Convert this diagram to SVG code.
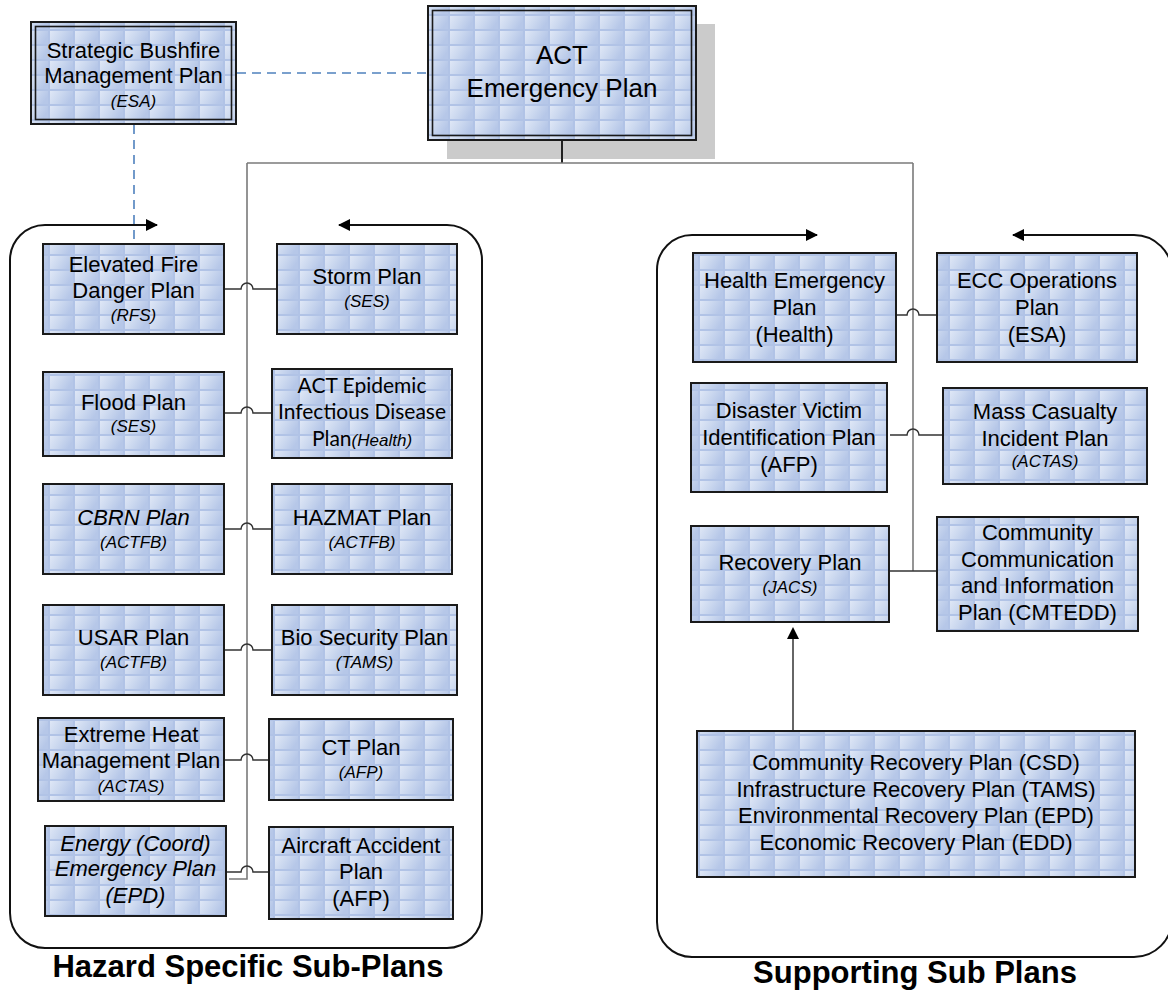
<svg xmlns="http://www.w3.org/2000/svg" width="1168" height="993" viewBox="0 0 1168 993">
<defs>
<linearGradient id="tg" x1="0" y1="0" x2="1" y2="0.35">
<stop offset="0" stop-color="#dfe7f6"/>
<stop offset="0.5" stop-color="#cbd8ef"/>
<stop offset="1" stop-color="#b6c7e8"/>
</linearGradient>
<pattern id="tile" width="25" height="15" patternUnits="userSpaceOnUse">
<rect width="25" height="15" fill="#b1c3e6"/>
<rect x="0" y="1" width="23" height="13" fill="url(#tg)"/>
</pattern>
<marker id="ah" viewBox="0 0 12 12" refX="11" refY="6" markerWidth="12" markerHeight="12" markerUnits="userSpaceOnUse" orient="auto">
<path d="M0,0 L12,6 L0,12 Z" fill="#000"/>
</marker>
<style>
.n{fill:url(#tile);stroke:#1a1a1a;stroke-width:2}
.in{fill:none;stroke:#1a1a1a;stroke-width:1.6}
.t{font-family:"Liberation Sans",Arial,sans-serif;font-size:22px;text-anchor:middle;fill:#000}
.s{font-style:italic;font-size:17px}
.it{font-style:italic}
.cal{font-family:Lato,"Liberation Sans",sans-serif;font-size:21px}
.big{font-size:26px}
.lbl{font-family:"Liberation Sans",Arial,sans-serif;font-weight:bold;font-size:31px;text-anchor:middle;fill:#000}
.c{fill:none;stroke:#333;stroke-width:1.5}
.tr{fill:none;stroke:#7a7a7a;stroke-width:1.6}
.d{fill:none;stroke:#4f81bd;stroke-width:1.6;stroke-dasharray:9 6}
.box{fill:none;stroke:#111;stroke-width:2}
</style>
</defs>
<rect width="1168" height="993" fill="#fff"/>

<g id="containers">
<path class="box" d="M247,948 H45 A35,35 0 0 1 10,913 V260 A35,35 0 0 1 45,225 H157" marker-end="url(#ah)"/>
<path class="box" d="M247,948 H447 A35,35 0 0 0 482,913 V260 A35,35 0 0 0 447,225 H339" marker-end="url(#ah)"/>
<path class="box" d="M913,957 H692 A35,35 0 0 1 657,922 V270 A35,35 0 0 1 692,235 H817" marker-end="url(#ah)"/>
<path class="box" d="M913,957 H1134 A38,38 0 0 0 1172,919 V273 A38,38 0 0 0 1134,235 H1013" marker-end="url(#ah)"/>
</g>

<g id="act">
<rect x="447" y="24" width="268" height="135" fill="#cbcbcb"/>
<rect class="n" x="428" y="6" width="268" height="134"/>
<rect class="in" x="432.5" y="10.5" width="259" height="125"/>
<text class="t big"><tspan x="562" y="64">ACT</tspan><tspan x="562" y="97">Emergency Plan</tspan></text>
</g>

<g id="strategic">
<rect class="n" x="31" y="22" width="205" height="102"/>
<rect class="in" x="35.5" y="26.5" width="196" height="93"/>
<text class="t"><tspan x="133.5" y="58">Strategic Bushfire</tspan><tspan x="133.5" y="83">Management Plan</tspan><tspan class="s" x="133.5" y="107">(ESA)</tspan></text>
</g>

<g id="elevated">
<rect class="n" x="43" y="244" width="181" height="90"/>
<text class="t"><tspan x="133.5" y="272">Elevated Fire</tspan><tspan x="133.5" y="298">Danger Plan</tspan><tspan class="s" x="133.5" y="321">(RFS)</tspan></text>
</g>
<g id="storm">
<rect class="n" x="277" y="244" width="180" height="90"/>
<text class="t"><tspan x="367" y="284">Storm Plan</tspan><tspan class="s" x="367" y="307">(SES)</tspan></text>
</g>
<g id="flood">
<rect class="n" x="43" y="372" width="181" height="84"/>
<text class="t"><tspan x="133.5" y="410">Flood Plan</tspan><tspan class="s" x="133.5" y="432">(SES)</tspan></text>
</g>
<g id="epidemic">
<rect class="n" x="272" y="369" width="180" height="89"/>
<text class="t cal"><tspan x="362" y="393">ACT Epidemic</tspan><tspan x="362" y="419">Infectious Disease</tspan><tspan x="362" y="446">Plan<tspan style="font-family:'Liberation Sans',Arial,sans-serif;font-style:italic;font-size:17px">(Health)</tspan></tspan></text>
</g>
<g id="cbrn">
<rect class="n" x="43" y="484" width="181" height="90"/>
<text class="t"><tspan class="it" x="133.5" y="525">CBRN Plan</tspan><tspan class="s" x="133.5" y="548">(ACTFB)</tspan></text>
</g>
<g id="hazmat">
<rect class="n" x="272" y="484" width="180" height="90"/>
<text class="t"><tspan x="362" y="525">HAZMAT Plan</tspan><tspan class="s" x="362" y="548">(ACTFB)</tspan></text>
</g>
<g id="usar">
<rect class="n" x="43" y="605" width="181" height="90"/>
<text class="t"><tspan x="133.5" y="645">USAR Plan</tspan><tspan class="s" x="133.5" y="668">(ACTFB)</tspan></text>
</g>
<g id="biosecurity">
<rect class="n" x="272" y="605" width="185" height="90"/>
<text class="t"><tspan x="364.5" y="645">Bio Security Plan</tspan><tspan class="s" x="364.5" y="668">(TAMS)</tspan></text>
</g>
<g id="extremeheat">
<rect class="n" x="38" y="718" width="186" height="83"/>
<text class="t"><tspan x="131" y="742">Extreme Heat</tspan><tspan x="131" y="768">Management Plan</tspan><tspan class="s" x="131" y="792">(ACTAS)</tspan></text>
</g>
<g id="ct">
<rect class="n" x="269" y="719" width="184" height="81"/>
<text class="t"><tspan x="361" y="755">CT Plan</tspan><tspan class="s" x="361" y="778">(AFP)</tspan></text>
</g>
<g id="energy">
<rect class="n" x="45" y="826" width="181" height="90"/>
<text class="t it"><tspan x="135.5" y="851">Energy (Coord)</tspan><tspan x="135.5" y="876">Emergency Plan</tspan><tspan x="135.5" y="903">(EPD)</tspan></text>
</g>
<g id="aircraft">
<rect class="n" x="269" y="827" width="184" height="92"/>
<text class="t"><tspan x="361" y="853">Aircraft Accident</tspan><tspan x="361" y="879">Plan</tspan><tspan x="361" y="906">(AFP)</tspan></text>
</g>

<g id="health">
<rect class="n" x="693" y="253" width="203" height="109"/>
<text class="t"><tspan x="794.5" y="288">Health Emergency</tspan><tspan x="794.5" y="315">Plan</tspan><tspan x="794.5" y="342">(Health)</tspan></text>
</g>
<g id="ecc">
<rect class="n" x="937" y="253" width="200" height="109"/>
<text class="t"><tspan x="1037" y="288">ECC Operations</tspan><tspan x="1037" y="315">Plan</tspan><tspan x="1037" y="342">(ESA)</tspan></text>
</g>
<g id="dvi">
<rect class="n" x="691" y="383" width="196" height="109"/>
<text class="t"><tspan x="789" y="418">Disaster Victim</tspan><tspan x="789" y="445">Identification Plan</tspan><tspan x="789" y="472">(AFP)</tspan></text>
</g>
<g id="masscasualty">
<rect class="n" x="943" y="388" width="204" height="96"/>
<text class="t"><tspan x="1045" y="419">Mass Casualty</tspan><tspan x="1045" y="446">Incident Plan</tspan><tspan class="s" x="1045" y="467">(ACTAS)</tspan></text>
</g>
<g id="recovery">
<rect class="n" x="691" y="526" width="198" height="96"/>
<text class="t"><tspan x="790" y="570">Recovery Plan</tspan><tspan class="s" x="790" y="593">(JACS)</tspan></text>
</g>
<g id="communication">
<rect class="n" x="937" y="517" width="201" height="114"/>
<text class="t"><tspan x="1037.5" y="540">Community</tspan><tspan x="1037.5" y="567">Communication</tspan><tspan x="1037.5" y="593">and Information</tspan><tspan x="1037.5" y="620">Plan (CMTEDD)</tspan></text>
</g>
<g id="recoveryplans">
<rect class="n" x="697" y="731" width="438" height="146"/>
<text class="t"><tspan x="916" y="770">Community Recovery Plan (CSD)</tspan><tspan x="916" y="797">Infrastructure Recovery Plan (TAMS)</tspan><tspan x="916" y="823">Environmental Recovery Plan (EPD)</tspan><tspan x="916" y="850">Economic Recovery Plan (EDD)</tspan></text>
</g>

<g id="connectors">
<line class="d" x1="237" y1="73" x2="427" y2="73"/>
<line class="d" x1="134" y1="125" x2="134" y2="243"/>
<path d="M562,141 V163" fill="none" stroke="#222" stroke-width="2"/>
<path class="tr" d="M247,163 H913"/>
<path class="tr" d="M247,163 V879 H229"/>
<path class="tr" d="M913,163 V571"/>
<path class="c" d="M225,289 H241 A6,6 0 0 1 253,289 H276"/>
<path class="c" d="M225,413 H241 A6,6 0 0 1 253,413 H271"/>
<path class="c" d="M225,529 H241 A6,6 0 0 1 253,529 H271"/>
<path class="c" d="M225,650 H241 A6,6 0 0 1 253,650 H271"/>
<path class="c" d="M225,760 H241 A6,6 0 0 1 253,760 H268"/>
<path class="c" d="M227,872 H241 A6,6 0 0 1 253,872 H268"/>
<path class="c" d="M897,315 H907 A6,6 0 0 1 919,315 H936"/>
<path class="c" d="M890,435 H907 A6,6 0 0 1 919,435 H942"/>
<path class="c" d="M890,571 H936"/>
<path class="c" d="M793,730 V639"/>
<path d="M793,627 L799,639 L787,639 Z" fill="#000"/>
</g>

<g id="labels">
<text class="lbl" x="248" y="977">Hazard Specific Sub-Plans</text>
<text class="lbl" x="915" y="983">Supporting Sub Plans</text>
</g>
</svg>
